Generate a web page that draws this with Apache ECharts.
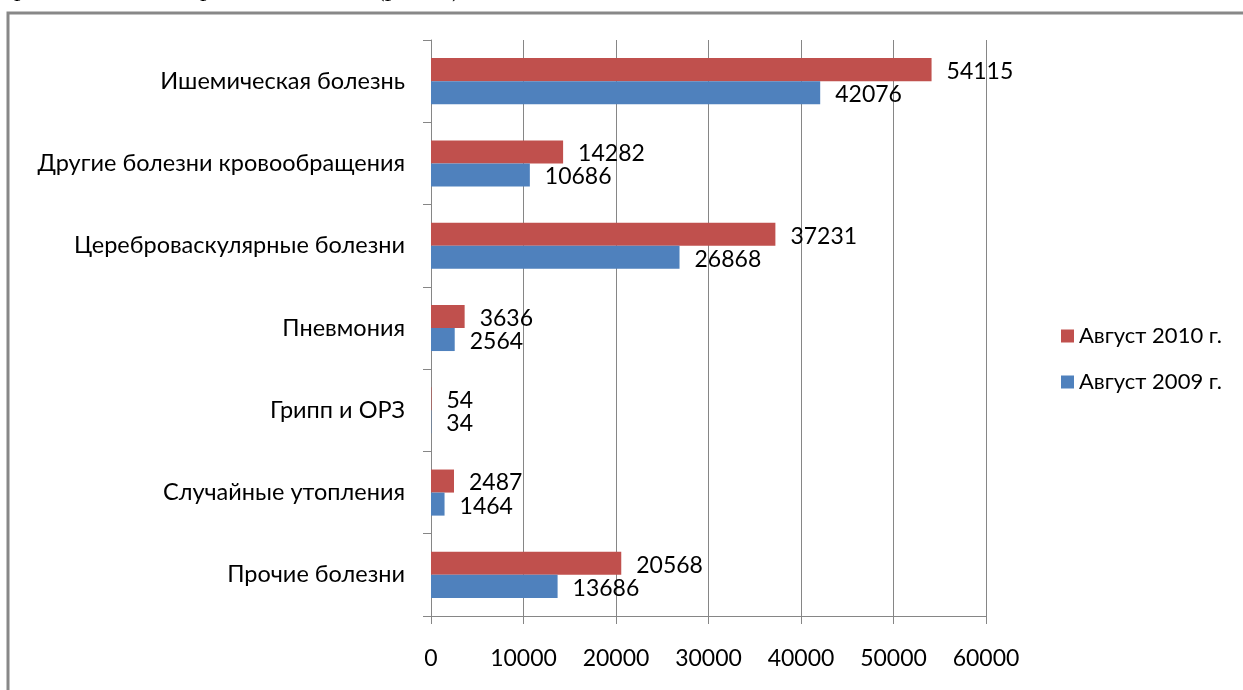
<!DOCTYPE html>
<html>
<head>
<meta charset="utf-8">
<script src="https://cdn.jsdelivr.net/npm/echarts@6/dist/echarts.min.js"></script>
<style>
html,body{margin:0;padding:0;background:#fff;}
#chart{width:1243px;height:690px;}
</style>
</head>
<body>
<div id="chart"></div>
<script>
const categories = ['Ишемическая болезнь','Другие болезни кровообращения','Цереброваскулярные болезни','Пневмония','Грипп и ОРЗ','Случайные утопления','Прочие болезни'];
const seriesNames = ['Август 2010 г.','Август 2009 г.'];
const values2010 = [54115, 14282, 37231, 3636, 54, 2487, 20568];
const values2009 = [42076, 10686, 26868, 2564, 34, 1464, 13686];
const xTicks = [0, 10000, 20000, 30000, 40000, 50000, 60000];

const FONT = 'Lato';
const chart = echarts.init(document.getElementById('chart'));
const labelCfg = {show:true, position:'right', distance:15, offset:[0,2], color:'#000', fontFamily:FONT, fontSize:23};
chart.setOption({
  animation:false,
  backgroundColor:'#fff',
  grid:{left:431, right:257, top:40, bottom:74, containLabel:false},
  legend:{
    orient:'vertical', left:1056, top:320, itemWidth:13, itemHeight:13, itemGap:24,
    icon:'rect',
    textStyle:{fontFamily:FONT, fontSize:22, color:'#000', padding:[0,0,0,0]},
    data:seriesNames
  },
  xAxis:{
    type:'value', min:xTicks[0], max:xTicks[xTicks.length-1], interval:10000,
    axisLine:{show:true, lineStyle:{color:'#868686', width:1}},
    axisTick:{show:true, length:8, lineStyle:{color:'#868686'}},
    splitLine:{show:true, lineStyle:{color:'#868686', width:1}},
    axisLabel:{color:'#000', fontFamily:FONT, fontSize:23, margin:31, formatter:(v)=>String(v)}
  },
  yAxis:{
    type:'category', data:categories, inverse:true,
    axisLine:{show:true, lineStyle:{color:'#868686', width:1}},
    axisTick:{show:true, length:8, lineStyle:{color:'#868686'}},
    axisLabel:{color:'#000', fontFamily:FONT, fontSize:23.5, margin:26}
  },
  series:[
    {name:seriesNames[0], type:'bar', data:values2010, barGap:'0%', barCategoryGap:'44%',
     itemStyle:{color:'#C0504D'}, label:labelCfg},
    {name:seriesNames[1], type:'bar', data:values2009, barGap:'0%', barCategoryGap:'44%',
     itemStyle:{color:'#4F81BD'}, label:labelCfg}
  ],
  graphic:[
    {type:'polyline', shape:{points:[[8,690],[8,13],[1243,13]]}, style:{stroke:'#888', lineWidth:3, fill:null}, z:10},
    {type:'text', left:14, top:-24, style:{text:'р', font:'26px "Liberation Serif"', fill:'#000'}},
    {type:'text', left:200, top:-24, style:{text:'р', font:'26px "Liberation Serif"', fill:'#000'}},
    {type:'text', left:376, top:-24, style:{text:'(р', font:'26px "Liberation Serif"', fill:'#000'}},
    {type:'text', left:452, top:-24, style:{text:')', font:'26px "Liberation Serif"', fill:'#000'}}
  ]
});
</script>
</body>
</html>
